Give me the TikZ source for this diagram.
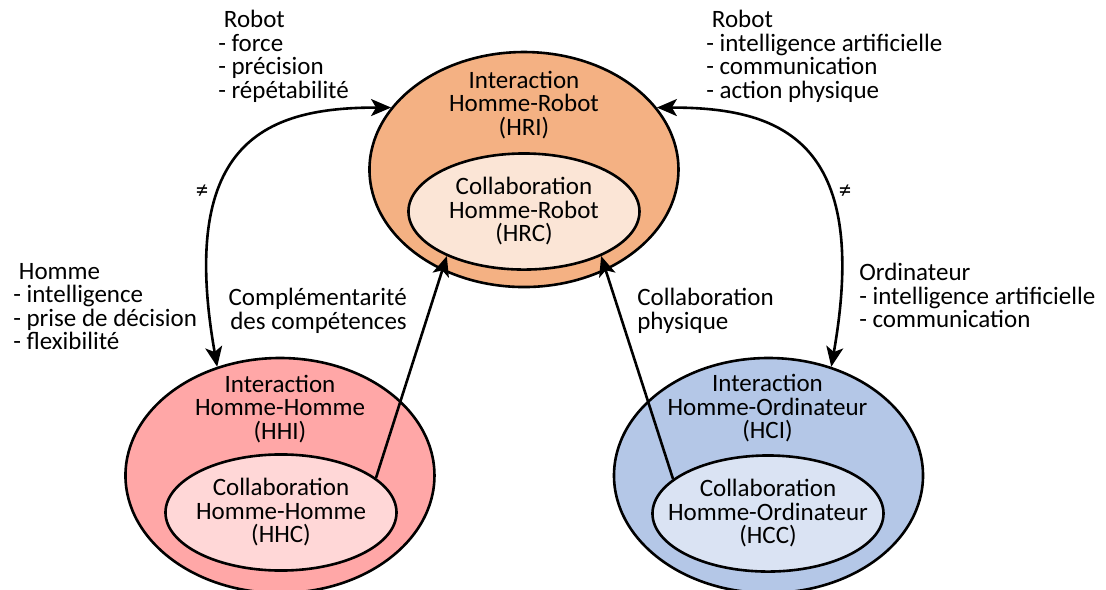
\documentclass[tikz,border=0pt]{standalone}
\usepackage{fontspec}
\setmainfont{Carlito}
\usepackage{tikz}
\usetikzlibrary{shapes.geometric,arrows.meta}

\definecolor{hriorange}{HTML}{F4B183}
\definecolor{hrcorange}{HTML}{FBE5D6}
\definecolor{hhired}{HTML}{FFA7A7}
\definecolor{hhcred}{HTML}{FFD7D7}
\definecolor{hciblue}{HTML}{B4C7E7}
\definecolor{hccblue}{HTML}{DAE3F3}

\begin{document}
\begin{tikzpicture}[auto,>={Stealth[length=10pt,width=8.5pt,inset=2.5pt]},line width=1.3pt,
	outer/.style={draw, ellipse, inner sep=0pt, minimum width=5.43cm, minimum height=4.13cm},
	inner/.style={draw, ellipse, inner sep=0pt, minimum width=4.06cm, minimum height=2.04cm},
	txt/.style={inner sep=0pt, font=\fontsize{12.5}{11.75}\selectfont}]
	\useasboundingbox (0cm,0cm) rectangle (19.436cm,-10.368cm);
	% ellipses
	\node[outer, fill=hriorange] (hri) at (9.208cm,-2.979cm) {};
	\node[inner, fill=hrcorange] (hrc) at (9.208cm,-3.717cm) {};
	\node[outer, fill=hhired] (hhi) at (4.920cm,-8.356cm) {};
	\node[inner, fill=hhcred] (hhc) at (4.938cm,-9.006cm) {};
	\node[outer, fill=hciblue] (hci) at (13.505cm,-8.356cm) {};
	\node[inner, fill=hccblue] (hcc) at (13.496cm,-9.024cm) {};
	\node[txt, align=center] (hri-title) at (9.208cm,-1.845cm) {Interaction\\Homme-Robot\\(HRI)};
	\node[txt, align=center] (hrc-title) at (9.208cm,-3.717cm) {Collaboration\\Homme-Robot\\(HRC)};
	\node[txt, align=center] (hhi-title) at (4.920cm,-7.187cm) {Interaction\\Homme-Homme\\(HHI)};
	\node[txt, align=center] (hhc-title) at (4.938cm,-9.006cm) {Collaboration\\Homme-Homme\\(HHC)};
	\node[txt, align=center] (hci-title) at (13.487cm,-7.178cm) {Interaction\\Homme-Ordinateur\\(HCI)};
	\node[txt, align=center] (hcc-title) at (13.496cm,-9.024cm) {Collaboration\\Homme-Ordinateur\\(HCC)};
	% arrows
	\path [<->] (hri.155) edge[out=180, in=100, out looseness=1, in looseness=1.9] (hhi.120);
	\path [<->] (hri.25) edge[out=0, in=80, out looseness=1, in looseness=1.9] (hci.60);
	\path [->] (hhc.20) edge (hrc.210);
	\path [->] (hcc.160) edge (hrc.330);
	\node[txt] (neq-left) at (3.550cm,-3.374cm) {≠};
	\node[txt] (neq-right) at (14.849cm,-3.374cm) {≠};
	% labels
	\node[txt, align=left, anchor=north west] (robot-left) at (3.813cm,-0.158cm) {\ Robot\\- force\\- précision\\- répétabilité};
	\node[txt, align=left, anchor=north west] (robot-right) at (12.389cm,-0.158cm) {\ Robot\\- intelligence artificielle\\- communication\\- action physique};
	\node[txt, align=left, anchor=north west] (homme) at (0.211cm,-4.604cm) {\ Homme\\- intelligence\\- prise de décision\\- flexibilité};
	\node[txt, align=left, anchor=north west] (ordinateur) at (15.078cm,-4.604cm) {Ordinateur\\- intelligence artificielle\\- communication};
	\node[txt, align=right, anchor=north east] (complementarite) at (7.170cm,-5.044cm) {Complémentarité\\des compétences};
	\node[txt, align=left, anchor=north west] (physique) at (11.176cm,-5.044cm) {Collaboration\\physique};
\end{tikzpicture}
\end{document}
